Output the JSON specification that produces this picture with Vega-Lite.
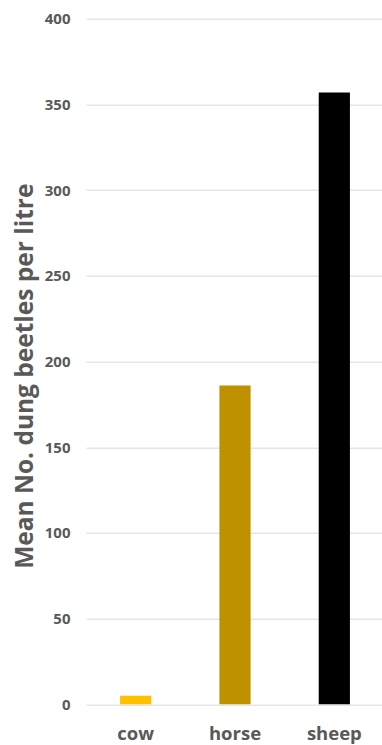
{
  "$schema": "https://vega.github.io/schema/vega-lite/v6.json",
  "autosize": {"type": "none"},
  "padding": {"left": 86, "top": 18.7, "right": 0, "bottom": 40},
  "width": 298,
  "height": 685.6,
  "background": "white",
  "config": {
    "view": {"stroke": null},
    "font": "Open Sans"
  },
  "data": {
    "values": [
      {"animal": "cow", "beetles": 5},
      {"animal": "horse", "beetles": 186},
      {"animal": "sheep", "beetles": 357}
    ]
  },
  "mark": {"type": "bar"},
  "encoding": {
    "x": {
      "field": "animal",
      "type": "nominal",
      "sort": ["cow", "horse", "sheep"],
      "scale": {"paddingInner": 0.686, "paddingOuter": 0.343},
      "axis": {
        "title": null,
        "labelAngle": 0,
        "labelFont": "Open Sans",
        "labelFontWeight": "bold",
        "labelFontSize": 18.5,
        "labelColor": "#595959",
        "labelBaseline": "alphabetic",
        "labelPadding": 35.5,
        "ticks": false,
        "tickSize": 0,
        "domain": false
      }
    },
    "y": {
      "field": "beetles",
      "type": "quantitative",
      "scale": {"domain": [0, 400], "nice": false},
      "axis": {
        "values": [0, 50, 100, 150, 200, 250, 300, 350, 400],
        "title": "Mean No. dung beetles per litre",
        "titleFont": "Open Sans",
        "titleFontWeight": "bold",
        "titleFontSize": 24.5,
        "titleColor": "#595959",
        "titleAngle": -90,
        "titleAlign": "center",
        "titleBaseline": "alphabetic",
        "titleX": -53.7,
        "titleY": 357,
        "labelFont": "Open Sans",
        "labelFontWeight": "bold",
        "labelFontSize": 15,
        "labelColor": "#595959",
        "labelPadding": 16,
        "labelBaseline": "middle",
        "ticks": false,
        "tickSize": 0,
        "domain": false,
        "grid": true,
        "gridColor": "#D9D9D9",
        "gridWidth": 1
      }
    },
    "color": {
      "field": "animal",
      "type": "nominal",
      "scale": {
        "domain": ["cow", "horse", "sheep"],
        "range": ["#FFC000", "#BF9000", "#000000"]
      },
      "legend": null
    }
  }
}
